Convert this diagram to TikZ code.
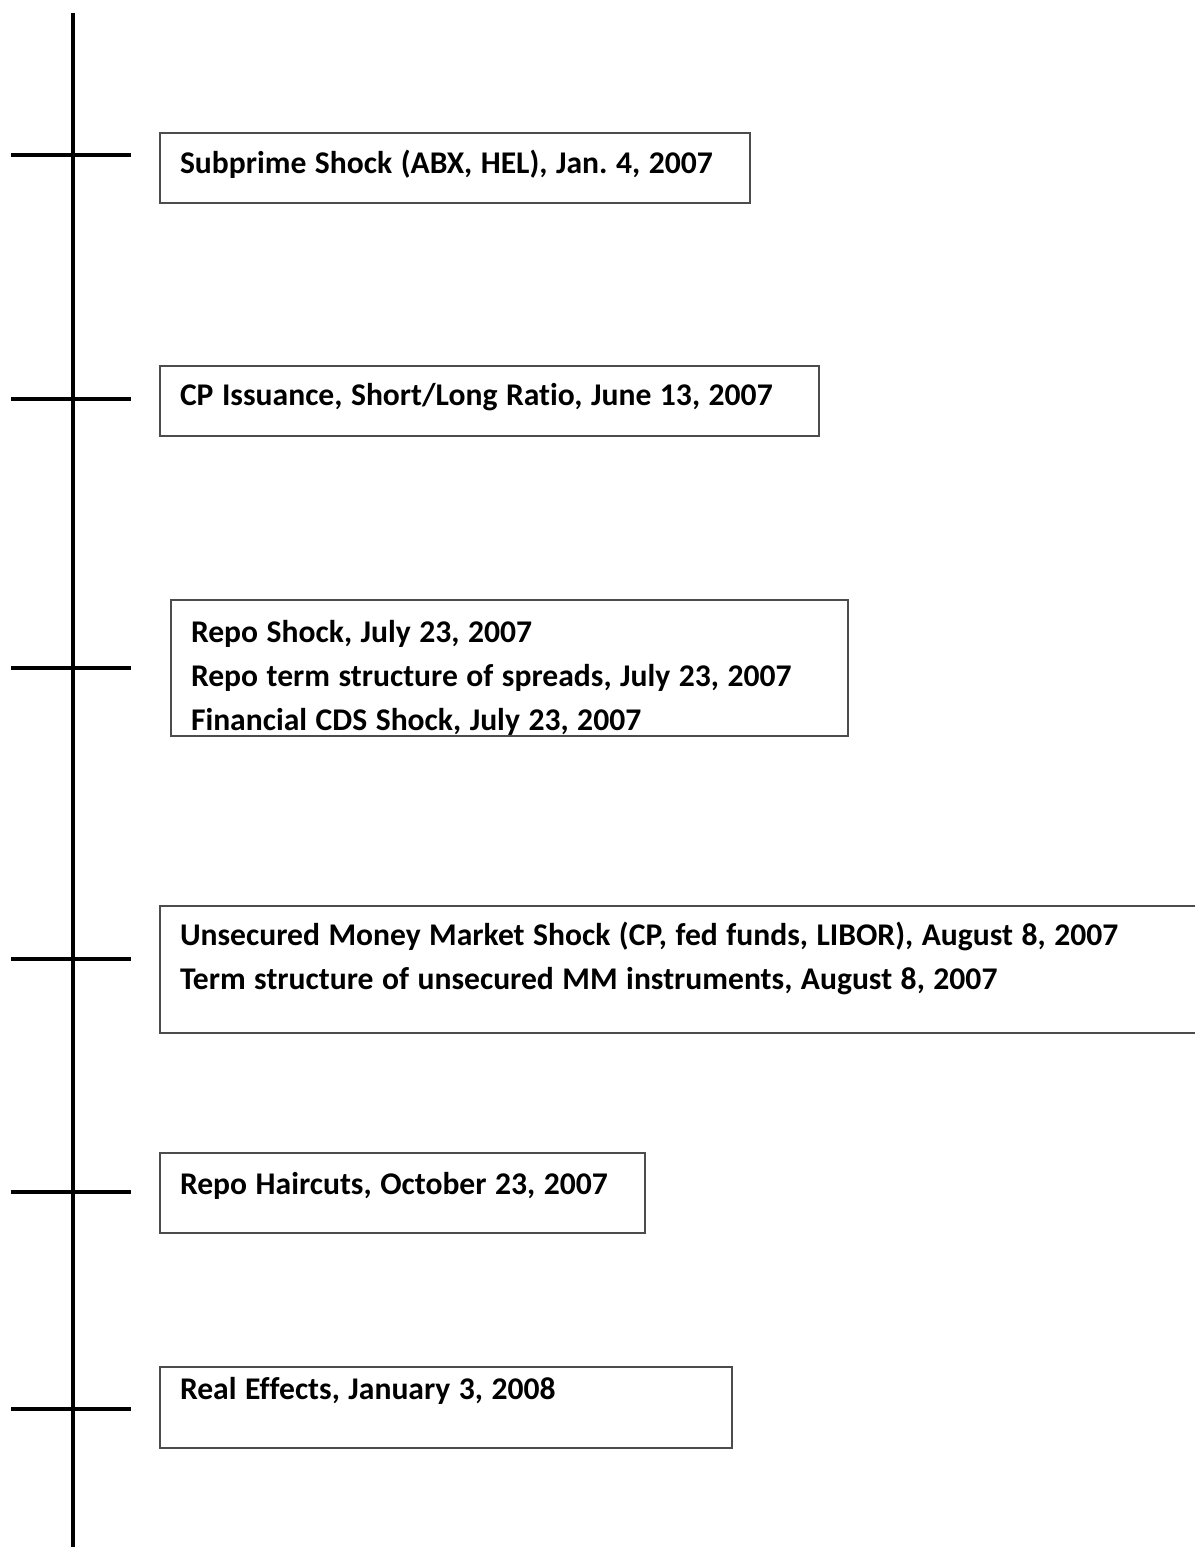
\documentclass[tikz,border=0pt]{standalone}
\usepackage{fontspec}
\setmainfont{Carlito}[Ligatures=NoCommon]
\usepackage{tikz}
\usetikzlibrary{positioning, calc}
\frenchspacing

\begin{document}
\begin{tikzpicture}[
  x=0.5pt, y=-0.5pt,
  eventbox/.style={draw=black!70, line width=0.6pt, anchor=north west, align=left, inner xsep=10pt, inner ysep=0pt, outer sep=0pt, font=\bfseries\fontsize{15.8pt}{22pt}\selectfont, execute at begin node={\spaceskip=0.27em\relax}},
  tickline/.style={line width=1.6pt}
]
  \useasboundingbox (0,0) rectangle (1194,1547);

  % Time axis
  \coordinate (axtop) at (73,13);
  \coordinate (axbot) at (73,1547);
  \draw[tickline] (axtop) -- (axbot);

  % Ticks
  \foreach \ty [count=\i] in {155,399,668,959,1192,1409} {
    \coordinate (tl\i) at (11,\ty);
    \coordinate (tr\i) at (131,\ty);
    \draw[tickline] (tl\i) -- (tr\i);
  }

  % Subprime
  \node[eventbox, minimum width=295pt, text width=275pt, text height=20pt, text depth=15pt] (subprime) at (160,133) {
    Subprime Shock (ABX, HEL), Jan. 4, 2007
  };

  % CP issuance
  \node[eventbox, minimum width=329.5pt, text width=309.5pt, text height=19.5pt, text depth=15.5pt] (cpissue) at (160,366) {
    CP Issuance, Short/Long Ratio, June 13, 2007
  };

  % Repo
  \node[eventbox, minimum width=338.5pt, text width=318.5pt, text height=21pt, text depth=47pt] (repo) at (171,600) {
    Repo Shock, July 23, 2007\\
    Repo term structure of spreads, July 23, 2007\\
    Financial CDS Shock, July 23, 2007
  };

  % Unsecured money market
  \node[eventbox, minimum width=530pt, text width=510pt, text height=19.5pt, text depth=44pt] (unsecured) at (160,906) {
    Unsecured Money Market Shock (CP, fed funds, LIBOR), August 8, 2007\\
    Term structure of unsecured MM instruments, August 8, 2007
  };

  % Haircuts
  \node[eventbox, minimum width=242.5pt, text width=222.5pt, text height=20.5pt, text depth=19.5pt] (haircuts) at (160,1153) {
    Repo Haircuts, October 23, 2007
  };

  % Real effects
  \node[eventbox, minimum width=286pt, text width=266pt, text height=16pt, text depth=24.5pt] (realeff) at (160,1367) {
    Real Effects, January 3, 2008
  };
\end{tikzpicture}
\end{document}
